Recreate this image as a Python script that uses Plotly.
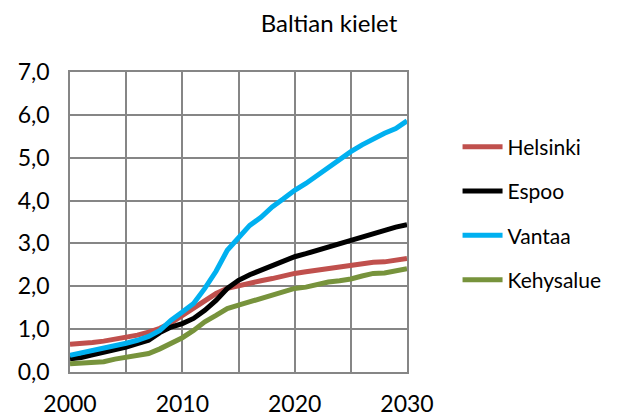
import plotly.graph_objects as go

# data
years = list(range(2000, 2031))

helsinki = [0.65, 0.66, 0.69, 0.72, 0.76, 0.80, 0.86, 0.93, 1.02, 1.15, 1.32, 1.50, 1.67, 1.83, 1.95,
            2.02, 2.09, 2.13, 2.18, 2.25, 2.30, 2.34, 2.38, 2.42, 2.45, 2.49, 2.52, 2.56, 2.57, 2.61, 2.65]
espoo = [0.31, 0.34, 0.40, 0.45, 0.51, 0.58, 0.66, 0.74, 0.92, 1.05, 1.13, 1.25, 1.44, 1.67, 1.95,
         2.14, 2.27, 2.37, 2.48, 2.60, 2.69, 2.76, 2.84, 2.92, 3.00, 3.08, 3.15, 3.24, 3.29, 3.38, 3.44]
vantaa = [0.39, 0.44, 0.49, 0.55, 0.61, 0.67, 0.74, 0.83, 0.97, 1.21, 1.40, 1.60, 1.95, 2.35, 2.84,
          3.15, 3.42, 3.61, 3.85, 4.04, 4.24, 4.40, 4.59, 4.79, 4.96, 5.14, 5.30, 5.45, 5.57, 5.68, 5.86]
kehysalue = [0.19, 0.20, 0.23, 0.24, 0.30, 0.35, 0.39, 0.43, 0.54, 0.66, 0.80, 0.97, 1.17, 1.32, 1.48,
             1.56, 1.64, 1.71, 1.79, 1.87, 1.95, 1.98, 2.05, 2.10, 2.13, 2.17, 2.24, 2.30, 2.31, 2.36, 2.41]

series = [
    ("Helsinki", helsinki, "#C0504D"),
    ("Espoo", espoo, "#000000"),
    ("Vantaa", vantaa, "#00B0F0"),
    ("Kehysalue", kehysalue, "#77933C"),
]

FONT = "Lato, 'Open Sans', sans-serif"
GRID = "#868686"

# page body adds an 8px margin, so the figure is a little smaller
W, H = 610, 410

fig = go.Figure()
for name, vals, color in series:
    fig.add_trace(go.Scatter(
        x=years, y=vals, name=name, mode="lines",
        line=dict(color=color, width=5),
        legendgroup=name,
    ))

fig.update_layout(
    width=W, height=H,
    margin=dict(l=62, r=205, t=64, b=46),
    plot_bgcolor="white", paper_bgcolor="white",
    font=dict(family=FONT, color="#000000", size=23),
    separators=", ",
    title=dict(text="Baltian kielet", x=321 / W, xanchor="center",
               y=1 - 16 / H, yanchor="middle", font=dict(size=24)),
    showlegend=True,
    legend=dict(x=1.15, xanchor="left", y=0.818, yanchor="top",
                font=dict(size=21), tracegroupgap=14, itemwidth=40,
                bgcolor="rgba(0,0,0,0)"),
)

fig.update_xaxes(
    range=[2000, 2030], dtick=10, tick0=2000, tickformat="d",
    showgrid=True, gridcolor=GRID, gridwidth=1.5,
    minor=dict(dtick=5, showgrid=True, gridcolor=GRID, gridwidth=1.5),
    showline=True, linecolor=GRID, linewidth=1.5, mirror=True,
    ticks="", zeroline=False, ticklabelstandoff=11, automargin=False,
)
fig.update_yaxes(
    range=[0, 7], dtick=1, tickformat=".1f",
    showgrid=True, gridcolor=GRID, gridwidth=1.5,
    showline=True, linecolor=GRID, linewidth=1.5, mirror=True,
    ticks="", zeroline=False, ticklabelstandoff=14, automargin=False,
)

fig.write_html("out.html")
